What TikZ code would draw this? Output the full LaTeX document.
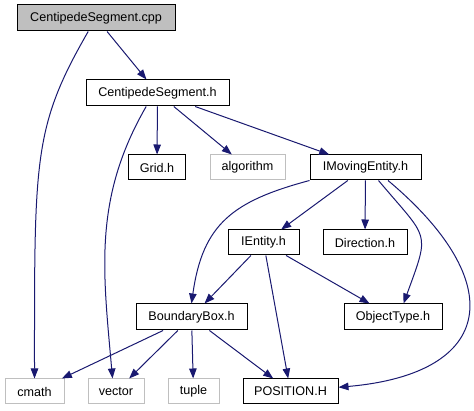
\documentclass[tikz,border=0pt]{standalone}
\usepackage{fontspec}
\setmainfont{Liberation Sans}
\usetikzlibrary{arrows.meta}
\definecolor{azuldep}{HTML}{191970}
\definecolor{grisdoc}{HTML}{BFBFBF}
\tikzset{
  archivo/.style={draw=black, line width=1pt, minimum height=26pt, inner sep=0pt,
    font=\fontsize{12.6}{14}\selectfont},
  externo/.style={archivo, draw=grisdoc, minimum height=25pt},
  dep/.style={-{Triangle[length=10pt,width=7.5pt]}, azuldep, line width=1pt},
}
\begin{document}
\begin{tikzpicture}[x=1pt,y=1pt]
    \useasboundingbox (0,0) rectangle (474,-411);

    % Archivos del proyecto
    \node[archivo, fill=grisdoc, minimum width=158pt] (cpp) at (96,-18) {CentipedeSegment.cpp};
    \node[archivo, minimum width=143pt] (segh) at (157.5,-93) {CentipedeSegment.h};
    \node[archivo, minimum width=57pt, minimum height=25pt] (grid) at (157,-167.5) {Grid.h};
    \node[archivo, minimum width=111pt, minimum height=25pt] (moving) at (365.5,-167.5) {IMovingEntity.h};
    \node[archivo, minimum width=71pt, minimum height=25pt] (ientity) at (263.5,-242.5) {IEntity.h};
    \node[archivo, minimum width=84pt, minimum height=25pt] (direction) at (365,-242.5) {Direction.h};
    \node[archivo, minimum width=111pt] (bbox) at (191.5,-317) {BoundaryBox.h};
    \node[archivo, minimum width=98pt] (objtype) at (393,-317) {ObjectType.h};
    \node[archivo, minimum width=95pt, minimum height=25pt] (position) at (290.5,-391.5) {POSITION.H};

    % Cabeceras del sistema
    \node[externo, minimum width=75pt] (algo) at (247.5,-167.5) {algorithm};
    \node[externo, minimum width=59pt] (cmath) at (34.5,-391.5) {cmath};
    \node[externo, minimum width=56pt] (vector) at (116,-391.5) {vector};
    \node[externo, minimum width=51pt] (tuple) at (193.5,-391.5) {tuple};

    % Dependencias
    \draw[dep] (cpp) -- (segh);
    \draw[dep] (cpp) to[out=240, in=90, out looseness=0.8, in looseness=1.6] (cmath);
    \draw[dep] (segh) -- (grid);
    \draw[dep] (segh) -- (algo);
    \draw[dep] (segh) -- (moving);
    \draw[dep] (segh.230) to[out=240, in=95] (vector.105);
    \draw[dep] (moving) -- (ientity);
    \draw[dep] (moving) -- (direction);
    \draw[dep] (moving.south west) to[out=195, in=82, looseness=1.2] (bbox.north);
    \draw[dep] (moving.-45) to[out=-50, in=70, looseness=1.6] (objtype.52);
    \draw[dep] (moving.-30) to[out=-40, in=5, looseness=1.9] (position.5);
    \draw[dep] (ientity) -- (bbox);
    \draw[dep] (ientity) -- (position);
    \draw[dep] (ientity) -- (objtype);
    \draw[dep] (bbox) -- (cmath);
    \draw[dep] (bbox) -- (vector);
    \draw[dep] (bbox) -- (tuple);
    \draw[dep] (bbox) -- (position);
\end{tikzpicture}
\end{document}
